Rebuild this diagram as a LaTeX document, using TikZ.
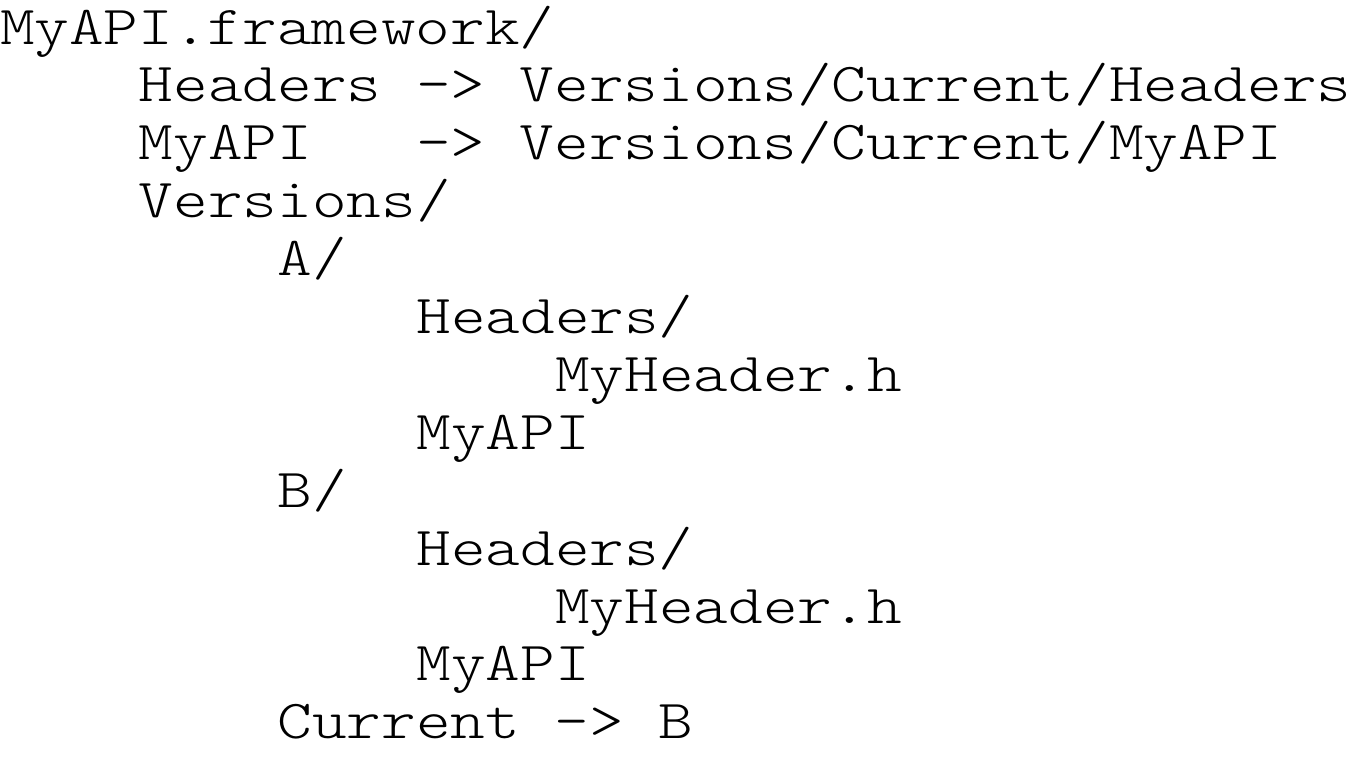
\documentclass[tikz,border=0pt]{standalone}
\usepackage{fontspec}
% thin slab-serif typewriter face, widened to a 0.63em character cell
\newfontfamily\treefont{Latin Modern Mono Light}[FakeStretch=1.2]
\begin{document}
\begin{tikzpicture}[x=1pt,y=1pt,
  listing/.style={anchor=base west, inner sep=0pt, outer sep=0pt,
    font=\treefont\fontsize{27.5}{30}\selectfont}]
\useasboundingbox (0,0) rectangle (676.5,-388);
% character width and line pitch of the tree listing
\def\cw{17.35}
\def\lp{28.95}
\def\top{-22}
\node[listing] (root)    at (0*\cw,  \top-0*\lp)  {MyAPI.framework/};
\node[listing] (hdrlink) at (4*\cw,  \top-1*\lp)  {Headers\ ->\ Versions/Current/Headers};
\node[listing] (binlink) at (4*\cw,  \top-2*\lp)  {MyAPI\ \ \ ->\ Versions/Current/MyAPI};
\node[listing] (vers)    at (4*\cw,  \top-3*\lp)  {Versions/};
\node[listing] (va)      at (8*\cw,  \top-4*\lp)  {A/};
\node[listing] (vahdr)   at (12*\cw, \top-5*\lp)  {Headers/};
\node[listing] (vahfile) at (16*\cw, \top-6*\lp)  {MyHeader.h};
\node[listing] (vabin)   at (12*\cw, \top-7*\lp)  {MyAPI};
\node[listing] (vb)      at (8*\cw,  \top-8*\lp)  {B/};
\node[listing] (vbhdr)   at (12*\cw, \top-9*\lp)  {Headers/};
\node[listing] (vbhfile) at (16*\cw, \top-10*\lp) {MyHeader.h};
\node[listing] (vbbin)   at (12*\cw, \top-11*\lp) {MyAPI};
\node[listing] (cur)     at (8*\cw,  \top-12*\lp) {Current\ ->\ B};
\end{tikzpicture}
\end{document}
